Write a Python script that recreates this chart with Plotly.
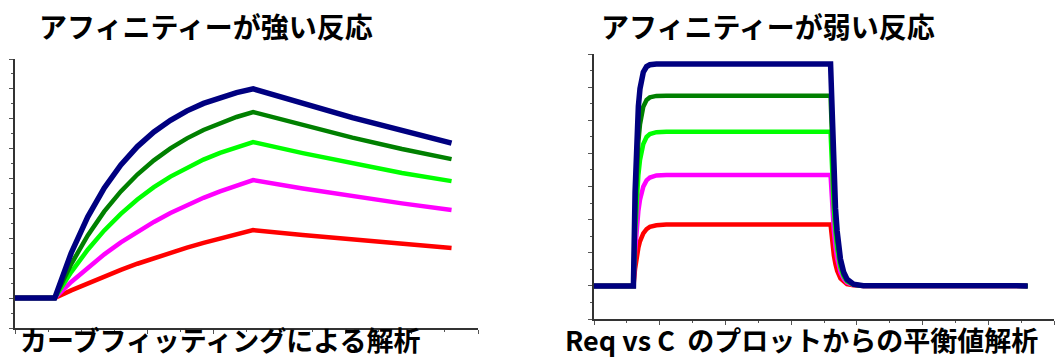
import plotly.graph_objects as go

W, H = 1058, 358

# ---------------- Left panel: strong affinity (curve fitting) ----------------
t_left = [0, 1.2, 1.7, 2.2, 2.7, 3.2, 3.7, 4.2, 4.7, 5.2, 5.7, 6.2, 6.7, 7.2,
          8.7, 10.2, 11.7, 13.2]
left_navy = [0, 0, 3.02, 5.44, 7.37, 8.91, 10.14, 11.12, 11.90, 12.53, 13.03, 13.43, 13.75, 14.0,
             13.01, 12.08, 11.23, 10.37]
left_green = [0, 0, 2.28, 4.19, 5.80, 7.14, 8.27, 9.22, 10.02, 10.69, 11.25, 11.72, 12.12, 12.45,
              11.57, 10.74, 9.98, 9.30]
left_lime = [0, 0, 1.74, 3.24, 4.53, 5.64, 6.60, 7.42, 8.13, 8.74, 9.27, 9.72, 10.11, 10.44,
             9.70, 9.01, 8.37, 7.83]
left_magenta = [0, 0, 1.08, 2.05, 2.93, 3.73, 4.45, 5.10, 5.69, 6.22, 6.71, 7.14, 7.54, 7.90,
                7.34, 6.82, 6.34, 5.89]
left_red = [0, 0, 0.52, 1.00, 1.46, 1.89, 2.30, 2.68, 3.04, 3.38, 3.70, 4.00, 4.29, 4.55,
            4.23, 3.93, 3.65, 3.35]

# ---------------- Right panel: weak affinity (steady state) ----------------
t_right = [0, 1.2, 1.25, 1.3, 1.35, 1.4, 1.5, 1.6, 1.7, 1.9, 2.2,
           7.2, 7.25, 7.3, 7.35, 7.4, 7.5, 7.6, 7.7, 7.9, 8.2, 13.2]
right_navy = [0, 0, 5.67, 8.94, 10.83, 11.91, 12.90, 13.24, 13.35, 13.39, 13.40,
              13.40, 9.45, 6.66, 4.69, 3.31, 1.63, 0.82, 0.40, 0.10, 0.01, 0]
right_green = [0, 0, 4.34, 7.04, 8.72, 9.76, 10.82, 11.22, 11.38, 11.47, 11.48,
               11.48, 8.09, 5.71, 4.02, 2.84, 1.40, 0.70, 0.34, 0.08, 0.01, 0]
right_lime = [0, 0, 3.22, 5.33, 6.70, 7.60, 8.57, 8.99, 9.17, 9.28, 9.30,
              9.30, 6.56, 4.62, 3.26, 2.30, 1.13, 0.57, 0.28, 0.07, 0.01, 0]
right_magenta = [0, 0, 2.10, 3.53, 4.52, 5.21, 5.99, 6.37, 6.54, 6.67, 6.70,
                 6.70, 4.72, 3.33, 2.35, 1.65, 0.82, 0.41, 0.20, 0.05, 0.01, 0]
right_red = [0, 0, 1.03, 1.77, 2.30, 2.69, 3.17, 3.43, 3.56, 3.66, 3.70,
             3.70, 2.61, 1.84, 1.30, 0.91, 0.45, 0.23, 0.11, 0.03, 0.00, 0]

title_left = "アフィニティーが強い反応"
title_right = "アフィニティーが弱い反応"
caption_left = "カーブフィッティングによる解析"
caption_right = "Req vs C  のプロットからの平衡値解析"

colors = ["#FF0000", "#FF00FF", "#00FF00", "#008000", "#000080"]
widths = [4.5, 4.5, 4.5, 4.5, 5.5]

fig = go.Figure()
left_series = [left_red, left_magenta, left_lime, left_green, left_navy]
right_series = [right_red, right_magenta, right_lime, right_green, right_navy]
for ys, c, w in zip(left_series, colors, widths):
    fig.add_trace(go.Scatter(x=t_left, y=ys, mode="lines", line=dict(color=c, width=w),
                             xaxis="x", yaxis="y", showlegend=False, hoverinfo="skip"))
for ys, c, w in zip(right_series, colors, widths):
    fig.add_trace(go.Scatter(x=t_right, y=ys, mode="lines", line=dict(color=c, width=w),
                             xaxis="x2", yaxis="y2", showlegend=False, hoverinfo="skip"))

axis_common = dict(showline=True, linecolor="#333333", linewidth=1.5, ticks="outside",
                   ticklen=4, tickwidth=1, tickcolor="#555555", showticklabels=False,
                   showgrid=False, zeroline=False, tick0=0, dtick=2,
                   minor=dict(ticks="outside", ticklen=2, dtick=1, tick0=0,
                              tickcolor="#555555", showgrid=False))

fig.update_layout(
    width=W, height=H,
    margin=dict(l=0, r=0, t=0, b=0),
    paper_bgcolor="white", plot_bgcolor="white",
    xaxis=dict(domain=[15 / W, 478 / W], range=[0, 14], anchor="y", **axis_common),
    yaxis=dict(domain=[30 / H, 299 / H], range=[-2, 16], anchor="x", **axis_common),
    xaxis2=dict(domain=[594 / W, 1054 / W], range=[0, 14], anchor="y2", **axis_common),
    yaxis2=dict(domain=[39 / H, 304 / H], range=[-2, 14], anchor="x2", **axis_common),
    font=dict(family="Noto Sans CJK JP", color="black"),
)

def add_text(txt, cx, cy, size=28):
    fig.add_annotation(text="<b>" + txt + "</b>", x=cx / W, y=1 - cy / H, xref="paper", yref="paper",
                       xanchor="center", yanchor="middle", showarrow=False, borderpad=0,
                       font=dict(family="Noto Sans CJK JP", size=size, color="black"))

add_text(title_left, 206, 26.5)
add_text(title_right, 767.5, 26.5)
add_text(caption_left, 220, 339, size=27)
add_text(caption_right, 801, 339, size=27)

fig.write_html("out.html")
